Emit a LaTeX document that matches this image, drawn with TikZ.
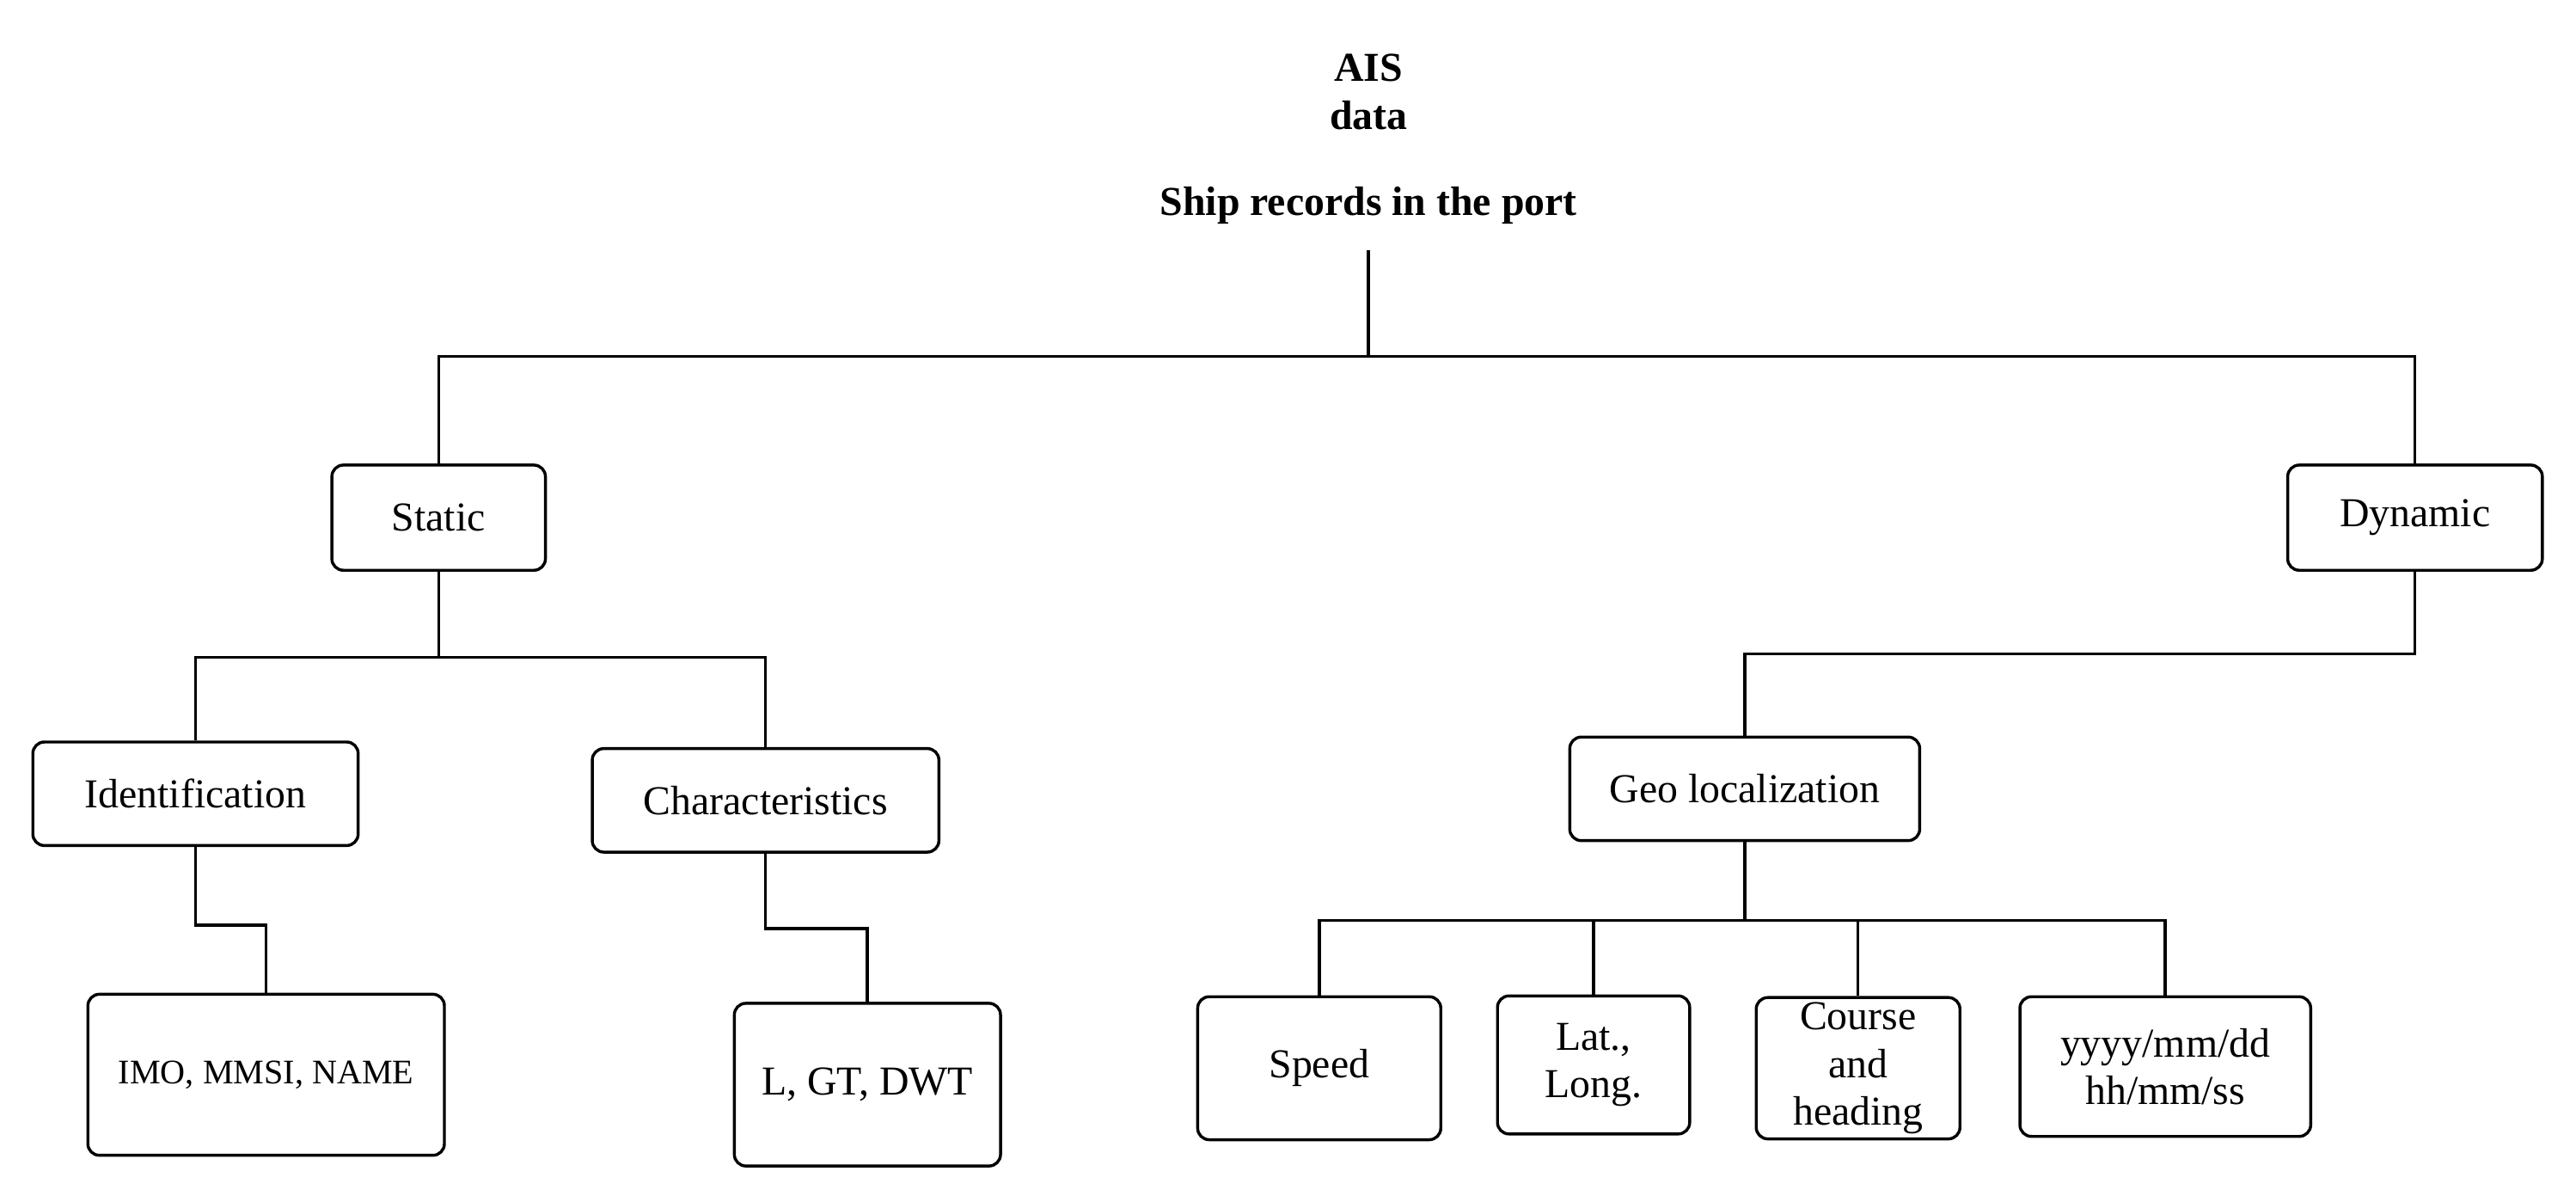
\documentclass[tikz,border=0pt]{standalone}
\usepackage{fontspec}
\setmainfont{Liberation Serif}
\begin{document}
\begin{tikzpicture}[x=1pt,y=-1pt,line width=1.8pt,
  every node/.style={inner sep=0pt},
  box/.style={draw,rounded corners=7pt,align=center,font=\fontsize{25}{29}\selectfont},
  head/.style={align=center,font=\fontsize{25}{29}\selectfont\bfseries}]
  \useasboundingbox (0,0) rectangle (1568,731);
  % titles
  \node[head] (ais) at (833,56) {AIS\\data};
  \node[head] (ship) at (833,125) {Ship records in the port};
  \coordinate (shipfoot) at (833,152);
  \coordinate (top) at (833,217);
  % first level
  \node[box,minimum width=130pt,minimum height=64pt] (static) at (267,315) {Static};
  \node[box,minimum width=155pt,minimum height=64pt] (dynamic) at (1470,315) {Dynamic};
  % second level
  \node[box,minimum width=198pt,minimum height=63pt] (ident) at (119,483) {Identification};
  \node[box,minimum width=211pt,minimum height=63pt] (charac) at (466,487) {Characteristics};
  \node[box,minimum width=213pt,minimum height=63pt] (geo) at (1062,480) {Geo localization};
  % leaves
  \node[box,minimum width=217pt,minimum height=98pt,font=\fontsize{21}{25}\selectfont] (imo) at (162,654) {IMO, MMSI, NAME};
  \node[box,minimum width=162pt,minimum height=99pt] (lgt) at (528,660) {L, GT, DWT};
  \node[box,minimum width=148pt,minimum height=87pt] (speed) at (803,650) {Speed};
  \node[box,minimum width=117pt,minimum height=84pt] (lat) at (970,648) {Lat.,\\Long.};
  \node[box,minimum width=124pt,minimum height=86pt] (course) at (1131,650) {Course\\and\\heading};
  \node[box,minimum width=177pt,minimum height=85pt] (date) at (1318,649) {yyyy/mm/dd\\hh/mm/ss};
  % junction points
  \coordinate (sj) at (267,400);
  \coordinate (dj) at (1062,398);
  \coordinate (gj) at (1062,560);
  % connectors
  \draw (shipfoot) -- (top);
  \draw (static.north) |- (top) -| (dynamic.north);
  \draw (static.south) -- (sj);
  \draw (ident.north) |- (sj) -| (charac.north);
  \draw (ident.south) |- (162,563) -- (imo.north);
  \draw (charac.south) |- (528,565) -- (lgt.north);
  \draw (dynamic.south) |- (dj) -- (geo.north);
  \draw (geo.south) -- (gj);
  \draw (speed.north) |- (gj) -| (date.north);
  \draw (lat.north) -- (lat.north |- gj);
  \draw (course.north) -- (course.north |- gj);
\end{tikzpicture}
\end{document}
